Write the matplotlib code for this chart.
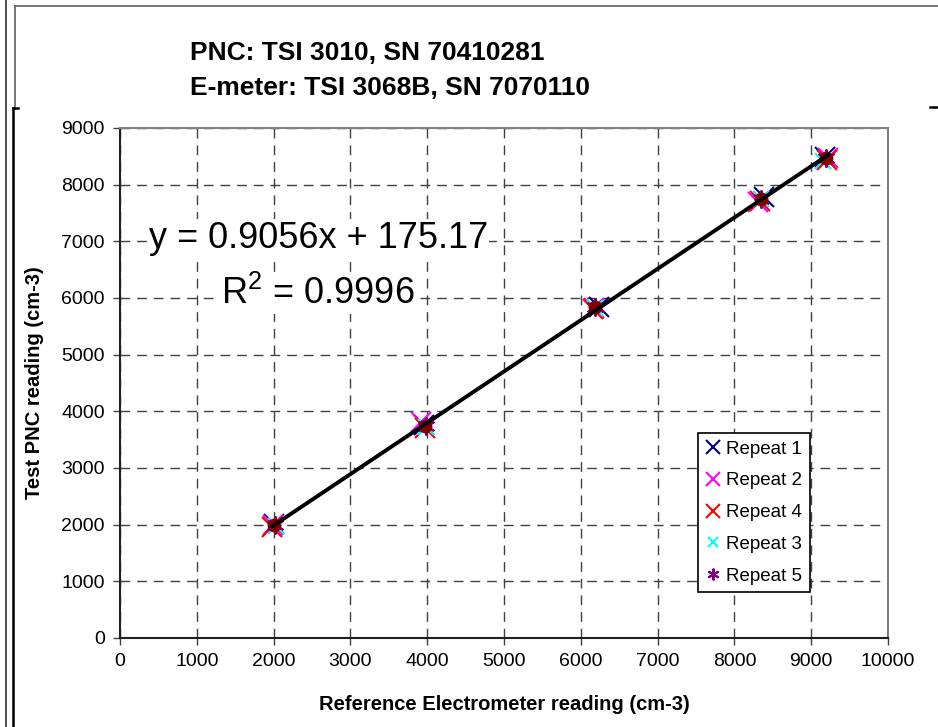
import numpy as np
import matplotlib.pyplot as plt
from matplotlib.lines import Line2D

plt.rcParams['font.family'] = ['Liberation Sans', 'DejaVu Sans']

# readings per repeat (reference electrometer vs test PNC), cm-3
rep1_x = [2000, 3960, 6240, 8380, 9180]
rep1_y = [2010, 3760, 5850, 7780, 8480]
rep2_x = [1990, 3920, 6170, 8310, 9220]
rep2_y = [1990, 3820, 5820, 7700, 8470]
rep4_x = [1980, 3970, 6160, 8330, 9210]
rep4_y = [1960, 3700, 5800, 7710, 8440]
rep3_x = [2030, 3990, 6180, 8340, 9160]
rep3_y = [1980, 3720, 5830, 7740, 8420]
rep5_x = [2020, 3980, 6190, 8350, 9190]
rep5_y = [2000, 3740, 5840, 7750, 8470]
# averaged points
avg_x = [2010, 3970, 6190, 8340, 9190]
avg_y = [1990, 3740, 5840, 7750, 8470]

slope = 0.9056
intercept = 175.17
r2 = 0.9996

W, H = 938, 727
fig = plt.figure(figsize=(W / 100, H / 100), dpi=100)
ax = fig.add_axes([120 / W, 1 - 638 / H, 768 / W, 510 / H])

ax.plot(rep1_x, rep1_y, ls='none', marker='x', ms=15, mew=1.5, color='#000080', label='Repeat 1', zorder=3)
ax.plot(rep2_x, rep2_y, ls='none', marker='x', ms=15, mew=1.5, color='#ff00ff', label='Repeat 2', zorder=3)
ax.plot(rep4_x, rep4_y, ls='none', marker='x', ms=15, mew=1.5, color='#ff0000', label='Repeat 4', zorder=3)
ax.plot(rep3_x, rep3_y, ls='none', marker='x', ms=11, mew=1.5, color='#00ffff', label='Repeat 3', zorder=3)
ax.plot(rep5_x, rep5_y, ls='none', marker=(6, 2, 0), ms=13, mew=1.5, color='#800080', label='Repeat 5', zorder=3)
ax.plot(avg_x, avg_y, ls='none', marker='o', ms=9, color='#800000', zorder=4)

# linear fit across the data range
all_x = rep1_x + rep2_x + rep3_x + rep4_x + rep5_x
fx = np.array([min(all_x), max(all_x)])
ax.plot(fx, slope * fx + intercept, color='black', lw=2.8, zorder=5)

ax.set_xlim(0, 10000)
ax.set_ylim(0, 9000)
ax.set_xticks(np.arange(0, 10001, 1000))
ax.set_yticks(np.arange(0, 9001, 1000))
ax.tick_params(labelsize=14, length=5, width=1, color='#404040', pad=6)
ax.grid(True, color='#404040', ls=(0, (7, 5)), lw=1)
ax.set_axisbelow(True)
for s in ['left', 'bottom']:
    ax.spines[s].set_color('#202020')
    ax.spines[s].set_linewidth(1.5)
for s in ['top', 'right']:
    ax.spines[s].set_color('#808080')
    ax.spines[s].set_linewidth(1.5)

ax.set_xlabel('Reference Electrometer reading (cm-3)', fontsize=14.5, fontweight='bold', labelpad=18)
ax.set_ylabel('Test PNC reading (cm-3)', fontsize=14.5, fontweight='bold', labelpad=12)

# trendline equation labels
box = dict(facecolor='white', edgecolor='none', pad=1)
ax.text(0.258, 0.784, 'y = %.4fx + %.2f' % (slope, intercept), transform=ax.transAxes,
        fontsize=26, ha='center', va='center', bbox=box, zorder=6)
ax.text(0.258, 0.674, '$\\mathregular{R^2}$ = %.4f' % r2, transform=ax.transAxes,
        fontsize=26, ha='center', va='center', bbox=box, zorder=6)

leg = ax.legend(loc='lower right', bbox_to_anchor=(0.898, 0.09), borderaxespad=0, fontsize=13.5,
                frameon=True, fancybox=False, edgecolor='black', framealpha=1, borderpad=0.4,
                handlelength=0.8, handletextpad=0.3, labelspacing=0.78, markerscale=0.65)
leg.get_frame().set_linewidth(1.2)

fig.text(190 / W, 1 - 53 / H, 'PNC: TSI 3010, SN 70410281', fontsize=19, fontweight='bold',
         ha='left', va='center')
fig.text(190 / W, 1 - 88 / H, 'E-meter: TSI 3068B, SN 7070110', fontsize=19, fontweight='bold',
         ha='left', va='center')

# surrounding frame lines
def fline(x0, y0, x1, y1, c, lw):
    fig.add_artist(Line2D([x0 / W, x1 / W], [1 - y0 / H, 1 - y1 / H], color=c, lw=lw,
                          transform=fig.transFigure))

fline(6, 0, 6, H, '#303030', 1.2)
fline(15, 6, W, 6, '#606060', 1.2)
fline(15, 6, 15, 108, '#606060', 1.2)
fline(13, 108, 13, H, 'black', 1.8)
fline(13, 108, 18, 108, 'black', 1.8)
fline(930, 107, W, 107, 'black', 1.8)

fig.savefig('out.png', dpi=100)
